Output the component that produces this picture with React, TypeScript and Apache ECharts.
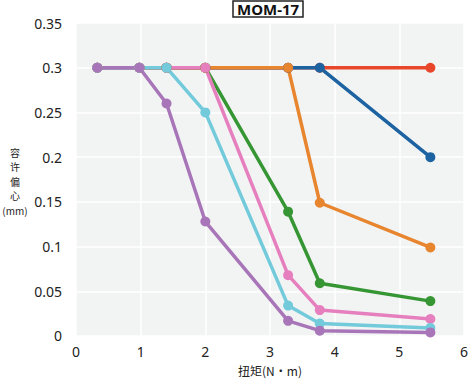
import React, { useEffect, useRef } from "react";
import * as echarts from "echarts";

const xs = [0.33, 0.98, 1.4, 2.0, 3.28, 3.77, 5.48];
const redVals = [0.3, 0.3, 0.3, 0.3, 0.3, 0.3, 0.3];
const blueVals = [0.3, 0.3, 0.3, 0.3, 0.3, 0.3, 0.2];
const greenVals = [0.3, 0.3, 0.3, 0.3, 0.139, 0.059, 0.039];
const orangeVals = [0.3, 0.3, 0.3, 0.3, 0.3, 0.149, 0.099];
const pinkVals = [0.3, 0.3, 0.3, 0.3, 0.068, 0.029, 0.019];
const cyanVals = [0.3, 0.3, 0.3, 0.25, 0.034, 0.014, 0.009];
const purpleVals = [0.3, 0.3, 0.26, 0.128, 0.017, 0.006, 0.004];

const seriesDefs = [
  { name: "red", color: "#e8472b", vals: redVals },
  { name: "blue", color: "#1d62a1", vals: blueVals },
  { name: "green", color: "#379634", vals: greenVals },
  { name: "orange", color: "#e8852f", vals: orangeVals },
  { name: "pink", color: "#e67fbe", vals: pinkVals },
  { name: "cyan", color: "#72cadb", vals: cyanVals },
  { name: "purple", color: "#a876b8", vals: purpleVals },
];

const yLabelParts = ["容", "许", "偏", "心", "(mm)"];
const xLabel = "扭矩(N·m)";
const title = "MOM-17";

export default function App() {
  const ref = useRef<HTMLDivElement>(null);
  useEffect(() => {
    const chart = echarts.init(ref.current!, null, { renderer: "svg" });
    const font = "'Noto Sans', 'Noto Sans CJK SC', sans-serif";
    const cjk = "'Noto Sans CJK SC', sans-serif";
    chart.setOption({
      animation: false,
      textStyle: { fontFamily: font },
      grid: { left: 76, right: 5, top: 23, bottom: 44, backgroundColor: "#f2f4f4", show: true, borderWidth: 0 },
      title: {
        text: title,
        left: 233,
        top: 1,
        padding: [0, 4, 0, 4],
        borderColor: "#222",
        borderWidth: 1.5,
        textStyle: { fontSize: 15, fontWeight: "bold", color: "#111", fontFamily: font, lineHeight: 16 },
      },
      xAxis: {
        type: "value",
        min: 0,
        max: 6,
        interval: 1,
        name: xLabel,
        nameLocation: "middle",
        nameGap: 28,
        nameTextStyle: { fontSize: 12, color: "#222", fontFamily: cjk },
        axisLine: { show: false },
        axisTick: { show: false },
        axisLabel: { fontSize: 14, color: "#222", margin: 9 },
        splitLine: { show: true, lineStyle: { color: "#ffffff", width: 1.5 } },
      },
      yAxis: {
        type: "value",
        min: 0,
        max: 0.35,
        interval: 0.05,
        axisLine: { show: false },
        axisTick: { show: false },
        axisLabel: { fontSize: 14, color: "#222", margin: 14, formatter: (v: number) => String(+v.toFixed(2)) },
        splitLine: { show: true, lineStyle: { color: "#ffffff", width: 1.5 } },
      },
      graphic: yLabelParts.map((t, i) => ({
        type: "text",
        x: 15,
        y: 147 + i * 14.6,
        style: {
          text: t,
          fontSize: 10,
          fill: "#222",
          align: "center",
          verticalAlign: "top",
          fontFamily: cjk,
        },
      })),
      series: seriesDefs.map((s) => ({
        type: "line",
        name: s.name,
        data: xs.map((x, i) => [x, s.vals[i]]),
        symbol: "circle",
        symbolSize: 10,
        lineStyle: { color: s.color, width: 3.5 },
        itemStyle: { color: s.color },
        z: 2,
      })),
    });
    return () => chart.dispose();
  }, []);
  return <div ref={ref} style={{ width: 471, height: 381, position: "absolute", left: 0, top: 0 }} />;
}
